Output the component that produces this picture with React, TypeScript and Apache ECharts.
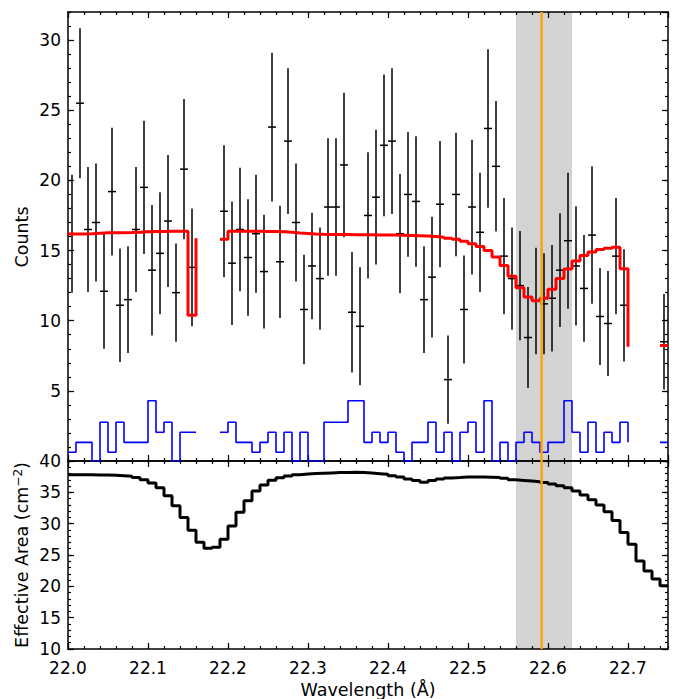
import React, { useEffect, useRef } from "react";
import * as echarts from "echarts";

// ---------------- data ----------------
const WAVE_START = 22.0;
const BIN = 0.01;
const X_MIN = 22.0;
const X_MAX = 22.75;
const xTickLabels = ["22.0", "22.1", "22.2", "22.3", "22.4", "22.5", "22.6", "22.7"];
const countTickLabels = [5, 10, 15, 20, 25, 30];
const areaTickLabels = [10, 15, 20, 25, 30, 35, 40];

// observed counts per 0.01 Å bin (bin k starts at 22.00 + 0.01k)
const counts: (number | null)[] = [
  16.2, 25.5, 16.5, 17.0, 12.1, 19.2, 11.1, 11.5, 16.5, 19.5,
  13.6, 14.8, 17.1, 12.0, 20.8, 13.8, null, null, null, 17.8,
  14.1, 16.5, 14.5, 16.2, 13.5, 23.8, 14.2, 22.8, 17.0, 10.8,
  13.9, 13.0, 18.1, 18.1, 21.1, 10.6, 9.6, 17.5, 18.8, 22.5,
  22.8, 16.2, 19.0, 18.5, 11.5, 13.1, 18.3, 5.8, 19.0, 10.8,
  18.1, 16.3, 23.7, 21.0, 14.6, 13.0, 12.5, 8.8, 11.4, 11.2,
  11.6, 13.6, 15.7, 13.9, 12.3, 16.1, 10.3, 9.8, 14.6, 11.1,
  null, null, null, null, 8.5,
];
const countErr: (number | null)[] = [
  4.2, 5.35, 4.45, 4.2, 4.1, 4.55, 4.05, 3.8, 4.45, 4.75,
  4.65, 4.35, 4.7, 3.5, 5.0, 4.2, null, null, null, 4.7,
  4.4, 4.4, 4.15, 4.2, 4.05, 5.3, 4.0, 5.2, 4.2, 3.9,
  3.8, 3.65, 4.9, 4.9, 5.15, 4.3, 4.2, 4.5, 4.8, 5.05,
  5.2, 4.25, 4.45, 4.65, 3.8, 4.3, 4.5, 3.15, 4.4, 3.85,
  4.8, 4.25, 5.65, 4.65, 4.15, 3.65, 3.9, 3.6, 3.8, 3.6,
  3.8, 4.05, 4.85, 4.25, 3.8, 4.9, 3.45, 3.75, 4.15, 4.0,
  null, null, null, null, 3.4,
];
// model (red), values at bin left edges, step-post
const model: (number | null)[] = [
  16.18, 16.18, 16.2, 16.24, 16.26, 16.27, 16.27, 16.28, 16.3, 16.33,
  16.35, 16.36, 16.37, 16.38, 16.38, 10.38, 15.88, null, null, 15.81,
  16.38, 16.38, 16.38, 16.37, 16.36, 16.35, 16.33, 16.3, 16.25, 16.22,
  16.18, 16.16, 16.15, 16.14, 16.14, 16.13, 16.12, 16.12, 16.11, 16.11,
  16.1, 16.09, 16.07, 16.05, 16.03, 16.0, 15.95, 15.88, 15.8, 15.66,
  15.48, 15.29, 15.0, 14.54, 13.93, 13.16, 12.35, 11.69, 11.42, 11.6,
  12.24, 13.0, 13.68, 14.25, 14.64, 14.9, 15.07, 15.17, 15.24, 13.7,
  8.14, null, null, null, 8.24, 8.24,
];
// background (blue), values at bin left edges, step-post
const background: (number | null)[] = [
  0.62, 1.33, 1.33, 0, 2.76, 0.62, 2.76, 1.33, 1.33, 1.33,
  4.29, 2.05, 2.76, 0, 2.05, 2.05, 2.05, null, null, 2.05,
  2.76, 1.33, 1.33, 0.62, 1.33, 2.05, 0.62, 2.05, 0, 2.05,
  0, 0, 2.76, 2.76, 2.76, 4.29, 4.29, 1.33, 2.05, 1.33,
  2.05, 0.62, 0, 1.33, 1.33, 2.76, 0.62, 2.05, 0, 2.05,
  2.76, 0.62, 4.29, 0, 1.33, 0, 1.33, 2.05, 1.33, 0.62,
  1.33, 1.33, 4.29, 2.05, 0.62, 2.76, 0.62, 2.05, 1.33, 2.76,
  1.33, null, null, null, 1.33, 1.33,
];
// effective area (cm^2), values at bin left edges, step-post
const effArea: number[] = [
  37.8, 37.8, 37.8, 37.78, 37.75, 37.72, 37.65, 37.55, 37.35, 37.0,
  36.5, 35.74, 34.47, 32.87, 31.0, 28.94, 27.02, 26.06, 26.22, 27.5,
  29.63, 31.81, 33.67, 35.21, 36.17, 36.91, 37.34, 37.6, 37.82, 37.93,
  38.0, 38.05, 38.1, 38.15, 38.18, 38.19, 38.16, 38.08, 37.98, 37.87,
  37.66, 37.45, 37.13, 36.9, 36.6, 36.9, 37.13, 37.3, 37.35, 37.45,
  37.45, 37.45, 37.42, 37.35, 37.23, 37.0, 36.9, 36.8, 36.7, 36.55,
  36.33, 36.06, 35.74, 35.2, 34.57, 33.83, 32.98, 31.9, 30.5, 28.6,
  26.7, 24.04, 22.45, 21.17, 20.1, 20.1,
];
const bandRange = [22.56, 22.63];
const lineWave = 22.592;

// ---------------- helpers ----------------
const FONT = "DejaVu Sans";
const FS = 17.5;
const TICK_FS = 17;
const edge = (k: number) => Math.round((WAVE_START + k * BIN) * 10000) / 10000;

function stepPoints(vals: (number | null)[]) {
  const pts: any[] = [];
  for (let k = 0; k < vals.length; k++) {
    const v = vals[k];
    if (v == null) continue;
    const x = edge(k);
    const prev = k > 0 ? vals[k - 1] : null;
    if (prev != null) pts.push([x, prev]);
    else if (pts.length) pts.push([x, "-"]);
    pts.push([x, v]);
  }
  return pts;
}

function mkAxis(
  gridIndex: number,
  position: string,
  min: number,
  max: number,
  interval: number,
  tickLen: number,
  showLine: boolean,
  label?: any
) {
  return {
    type: "value",
    gridIndex,
    position,
    min,
    max,
    interval,
    axisLine: { show: showLine, onZero: false, lineStyle: { color: "#000", width: 1.5 } },
    axisTick: { show: true, inside: true, length: tickLen, lineStyle: { color: "#000", width: 1.2 } },
    axisLabel: label
      ? { show: true, color: "#000", fontFamily: FONT, fontSize: TICK_FS, ...label }
      : { show: false },
    splitLine: { show: false },
    minorTick: { show: false },
    minorSplitLine: { show: false },
  };
}

export default function App() {
  const ref = useRef<HTMLDivElement>(null);

  useEffect(() => {
    if (!ref.current) return;
    const chart = echarts.init(ref.current, undefined, { renderer: "svg" });

    const errData = counts
      .map((c, k) => (c == null ? null : [Math.round((edge(k) + BIN / 2) * 10000) / 10000, c, countErr[k]]))
      .filter((d) => d != null);

    const xLabel = {
      margin: 10,
      formatter: (v: number) => {
        const s = v.toFixed(1);
        return xTickLabels.indexOf(s) >= 0 && Math.abs(v - parseFloat(s)) < 1e-6 ? s : "";
      },
      showMaxLabel: false,
    };
    const yLabelTop = {
      margin: 7,
      lineHeight: 13,
      formatter: (v: number) => (countTickLabels.indexOf(v) >= 0 ? String(v) : ""),
      showMinLabel: false,
      showMaxLabel: false,
    };
    const yLabelBot = {
      margin: 7,
      lineHeight: 13,
      formatter: (v: number) => (areaTickLabels.indexOf(v) >= 0 ? String(v) : ""),
    };

    const bandRender = (params: any, api: any) => {
      const cs = params.coordSys;
      const p0 = api.coord([api.value(0), api.value(2)]);
      const p1 = api.coord([api.value(1), api.value(2)]);
      return {
        type: "rect",
        shape: { x: p0[0], y: cs.y, width: p1[0] - p0[0], height: cs.height },
        style: { fill: "#d3d3d3" },
      };
    };
    const orangeRender = (params: any, api: any) => {
      const cs = params.coordSys;
      const p = api.coord([api.value(0), api.value(1)]);
      return {
        type: "line",
        shape: { x1: p[0], y1: cs.y, x2: p[0], y2: cs.y + cs.height },
        style: { stroke: "#ffa500", lineWidth: 2.5 },
      };
    };
    const errRender = (params: any, api: any) => {
      const x = api.value(0);
      const v = api.value(1);
      const e = api.value(2);
      const t = api.coord([x, v + e]);
      const b = api.coord([x, v - e]);
      const l = api.coord([x - BIN / 2, v]);
      const r = api.coord([x + BIN / 2, v]);
      const st = { stroke: "#000", lineWidth: 1.5 };
      return {
        type: "group",
        children: [
          { type: "line", shape: { x1: t[0], y1: t[1], x2: b[0], y2: b[1] }, style: st },
          { type: "line", shape: { x1: l[0], y1: l[1], x2: r[0], y2: r[1] }, style: st },
        ],
      };
    };

    const option: any = {
      animation: false,
      backgroundColor: "#fff",
      textStyle: { fontFamily: FONT },
      grid: [
        { left: 68, top: 12, width: 600, height: 449, containLabel: false },
        { left: 68, top: 461, width: 600, height: 188, containLabel: false },
      ],
      xAxis: [
        mkAxis(0, "bottom", X_MIN, X_MAX, 0.1, 6, true),
        mkAxis(0, "bottom", X_MIN, X_MAX, 0.02, 3, false),
        mkAxis(0, "top", X_MIN, X_MAX, 0.1, 6, true),
        mkAxis(0, "top", X_MIN, X_MAX, 0.02, 3, false),
        mkAxis(1, "bottom", X_MIN, X_MAX, 0.1, 6, true, xLabel),
        mkAxis(1, "bottom", X_MIN, X_MAX, 0.02, 3, false),
        mkAxis(1, "top", X_MIN, X_MAX, 0.1, 6, true),
        mkAxis(1, "top", X_MIN, X_MAX, 0.02, 3, false),
      ],
      yAxis: [
        mkAxis(0, "left", 0, 32, 5, 6, true, yLabelTop),
        mkAxis(0, "left", 0, 32, 1, 3, false),
        mkAxis(0, "right", 0, 32, 5, 6, true),
        mkAxis(0, "right", 0, 32, 1, 3, false),
        mkAxis(1, "left", 10, 40, 5, 6, true, yLabelBot),
        mkAxis(1, "left", 10, 40, 1, 3, false),
        mkAxis(1, "right", 10, 40, 5, 6, true),
        mkAxis(1, "right", 10, 40, 1, 3, false),
      ],
      series: [
        {
          type: "custom",
          xAxisIndex: 0,
          yAxisIndex: 0,
          z: 0,
          data: [[bandRange[0], bandRange[1], 16]],
          encode: { x: [0, 1], y: 2 },
          renderItem: bandRender,
          silent: true,
        },
        {
          type: "custom",
          xAxisIndex: 4,
          yAxisIndex: 4,
          z: 0,
          data: [[bandRange[0], bandRange[1], 25]],
          encode: { x: [0, 1], y: 2 },
          renderItem: bandRender,
          silent: true,
        },
        {
          type: "line",
          xAxisIndex: 0,
          yAxisIndex: 0,
          z: 2,
          data: stepPoints(background),
          showSymbol: false,
          symbol: "none",
          connectNulls: false,
          lineStyle: { color: "#0000ff", width: 1.6 },
          silent: true,
        },
        {
          type: "custom",
          xAxisIndex: 0,
          yAxisIndex: 0,
          z: 3,
          data: errData,
          encode: { x: 0, y: 1 },
          renderItem: errRender,
          silent: true,
        },
        {
          type: "line",
          xAxisIndex: 0,
          yAxisIndex: 0,
          z: 4,
          data: stepPoints(model),
          showSymbol: false,
          symbol: "none",
          connectNulls: false,
          lineStyle: { color: "#ff0000", width: 3 },
          silent: true,
        },
        {
          type: "line",
          xAxisIndex: 4,
          yAxisIndex: 4,
          z: 4,
          data: stepPoints(effArea),
          showSymbol: false,
          symbol: "none",
          lineStyle: { color: "#000", width: 3 },
          silent: true,
        },
        {
          type: "custom",
          xAxisIndex: 0,
          yAxisIndex: 0,
          z: 10,
          data: [[lineWave, 16]],
          encode: { x: 0, y: 1 },
          renderItem: orangeRender,
          silent: true,
        },
        {
          type: "custom",
          xAxisIndex: 4,
          yAxisIndex: 4,
          z: 10,
          data: [[lineWave, 25]],
          encode: { x: 0, y: 1 },
          renderItem: orangeRender,
          silent: true,
        },
      ],
      graphic: [
        {
          type: "text",
          x: 22,
          y: 237,
          rotation: Math.PI / 2,
          style: {
            text: "Counts",
            fill: "#000",
            font: `${FS}px "${FONT}"`,
            align: "center",
            verticalAlign: "middle",
            textAlign: "center",
            textVerticalAlign: "middle",
          },
        },
        {
          type: "text",
          x: 22,
          y: 555,
          rotation: Math.PI / 2,
          style: {
            text: "{n|Effective Area (cm}{s|−2}{n|)}",
            fill: "#000",
            font: `${FS}px "${FONT}"`,
            align: "center",
            verticalAlign: "middle",
            textAlign: "center",
            textVerticalAlign: "middle",
            rich: {
              n: { fontSize: FS, fontFamily: FONT, fill: "#000", color: "#000", lineHeight: 20 },
              s: { fontSize: 12, fontFamily: FONT, fill: "#000", color: "#000", lineHeight: 12, verticalAlign: "top" },
            },
          },
        },
        {
          type: "text",
          x: 368,
          y: 690,
          style: {
            text: "Wavelength (Å)",
            fill: "#000",
            font: `${FS}px "${FONT}"`,
            align: "center",
            verticalAlign: "middle",
            textAlign: "center",
            textVerticalAlign: "middle",
          },
        },
      ],
    };

    chart.setOption(option);
    return () => chart.dispose();
  }, []);

  return (
    <div
      ref={ref}
      style={{ position: "absolute", left: 0, top: 0, width: 675, height: 699, background: "#fff" }}
    />
  );
}
